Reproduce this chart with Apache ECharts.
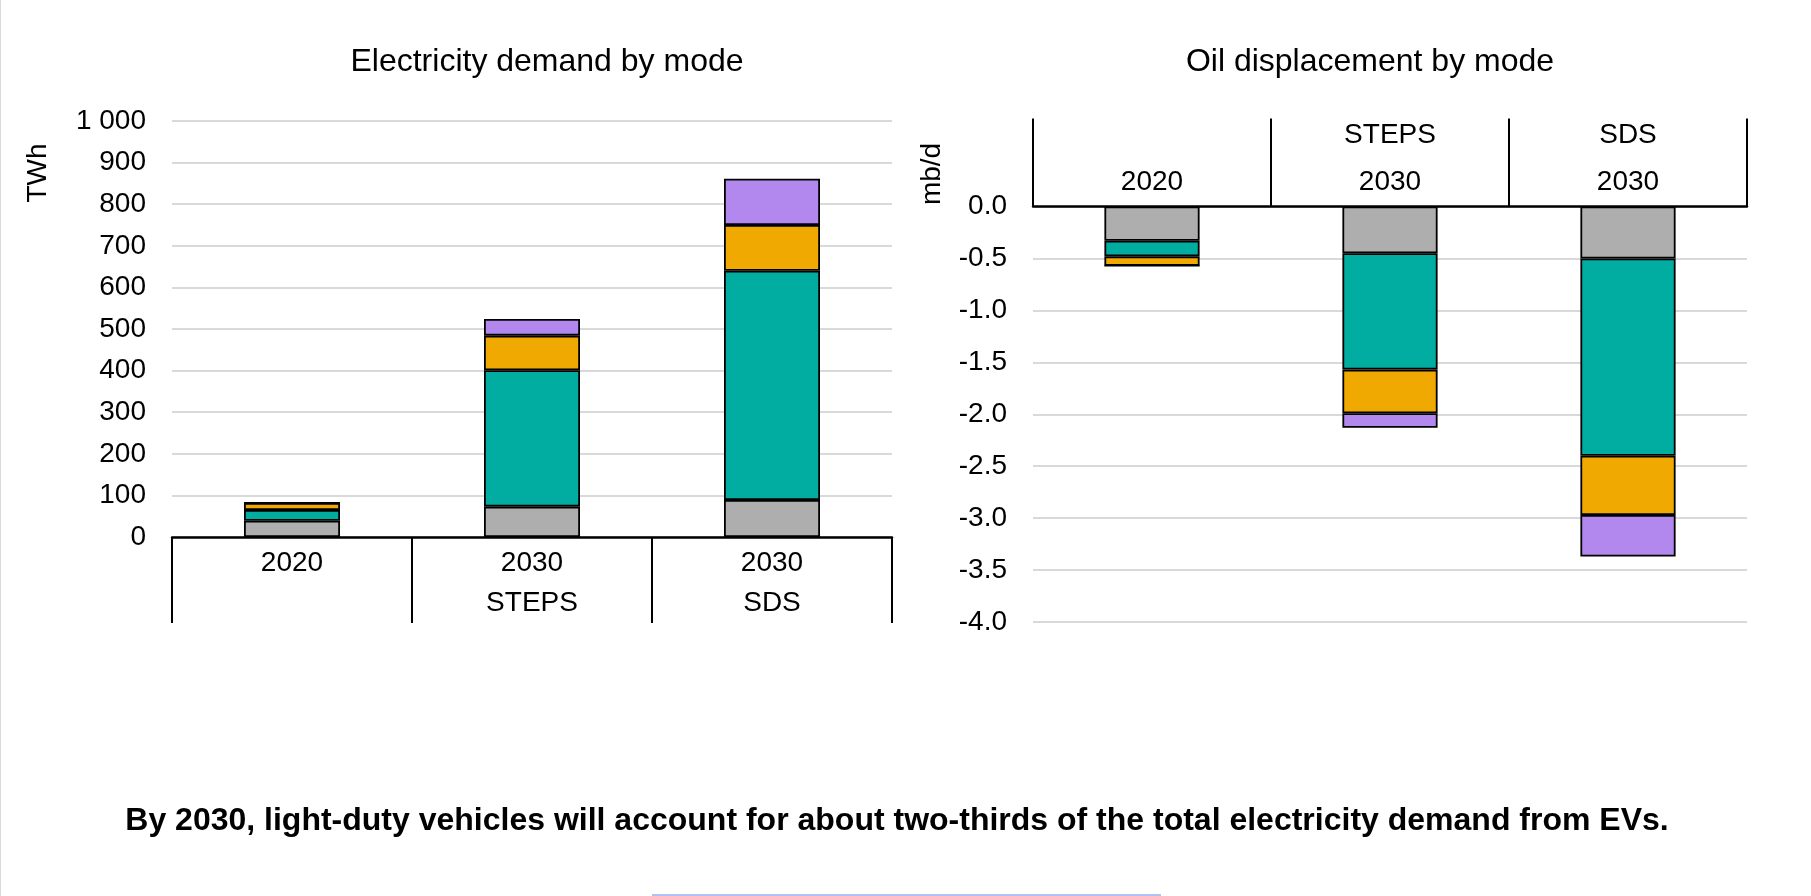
<!DOCTYPE html>
<html>
<head>
<meta charset="utf-8">
<title>Electricity demand and oil displacement by mode</title>
<script src="https://cdn.jsdelivr.net/npm/echarts@6/dist/echarts.min.js"></script>
<style>
  html, body { margin: 0; padding: 0; background: #ffffff; }
  #chart { width: 1811px; height: 896px; }
</style>
</head>
<body>
<div id="chart"></div>
<script>
// Categories for the two panels (multi-level labels, one line per level)
const elecCategories = ['2020', '2030\nSTEPS', '2030\nSDS'];
const oilCategories = ['2020', 'STEPS\n2030', 'SDS\n2030'];

// Transport modes, stacked in this order
const modeNames = ['Two/three-wheelers', 'Light-duty vehicles', 'Buses', 'Trucks'];

// Electricity demand by mode (TWh)
const elecTwoThree = [39, 73, 89];
const elecLDV = [26, 328, 551];
const elecBuses = [17, 83, 110];
const elecTrucks = [0, 40, 111];

// Oil displacement by mode (mb/d)
const oilTwoThree = [-0.33, -0.45, -0.50];
const oilLDV = [-0.15, -1.12, -1.90];
const oilBuses = [-0.09, -0.42, -0.57];
const oilTrucks = [0, -0.14, -0.40];

// Tick settings
const elecTicks = { min: 0, max: 1000, interval: 100 };
const oilTicks = { min: -4, max: 0, interval: 0.5 };

// Texts
const elecTitle = 'Electricity demand by mode';
const oilTitle = 'Oil displacement by mode';
const elecUnit = 'TWh';
const oilUnit = 'mb/d';
const caption = 'By 2030, light-duty vehicles will account for about two-thirds of the total electricity demand from EVs.';

const modeColors = ['#aeaeae', '#00ada0', '#f0a900', '#b288ee'];
const FONT = 'Liberation Sans, Arial, Helvetica, sans-serif';

const elecData = [elecTwoThree, elecLDV, elecBuses, elecTrucks];
const oilData = [oilTwoThree, oilLDV, oilBuses, oilTrucks];

const chart = echarts.init(document.getElementById('chart'), null, { renderer: 'canvas' });

function barSeries(data, i, axisIndex, stack) {
  return {
    name: modeNames[i],
    type: 'bar',
    xAxisIndex: axisIndex,
    yAxisIndex: axisIndex,
    stack: stack,
    barWidth: '40%',
    data: data,
    itemStyle: { color: modeColors[i], borderColor: '#000000', borderWidth: 1.8 },
    emphasis: { disabled: true }
  };
}

const series = [];
elecData.forEach((d, i) => series.push(barSeries(d, i, 0, 'elec')));
oilData.forEach((d, i) => series.push(barSeries(d, i, 1, 'oil')));

const splitLine = { show: true, lineStyle: { color: '#d9d9d9', width: 2 } };
const tickLabel = { color: '#000000', fontSize: 28, fontFamily: FONT };

const option = {
  animation: false,
  backgroundColor: '#ffffff',
  grid: [
    { left: 172, top: 121, width: 720, height: 416 },
    { left: 1033, top: 206.5, width: 714, height: 415.5 }
  ],
  xAxis: [
    {
      gridIndex: 0,
      type: 'category',
      position: 'bottom',
      data: elecCategories,
      axisLine: { show: true, lineStyle: { color: '#000000', width: 2.5 } },
      axisTick: { show: true, alignWithLabel: false, interval: 0, length: 86, lineStyle: { color: '#000000', width: 2 } },
      axisLabel: Object.assign({ interval: 0, margin: 6, lineHeight: 40 }, tickLabel),
      splitLine: { show: false }
    },
    {
      gridIndex: 1,
      type: 'category',
      position: 'top',
      data: oilCategories,
      axisLine: { show: true, onZero: false, lineStyle: { color: '#000000', width: 2.5 } },
      axisTick: { show: true, alignWithLabel: false, interval: 0, length: 88, lineStyle: { color: '#000000', width: 2 } },
      axisLabel: Object.assign({ interval: 0, margin: 1, lineHeight: 47 }, tickLabel),
      splitLine: { show: false }
    }
  ],
  yAxis: [
    {
      gridIndex: 0,
      type: 'value',
      min: elecTicks.min,
      max: elecTicks.max,
      interval: elecTicks.interval,
      axisLine: { show: false },
      axisTick: { show: false },
      splitLine: splitLine,
      axisLabel: Object.assign({
        margin: 26,
        formatter: v => String(v).replace(/\B(?=(\d{3})+(?!\d))/g, ' ')
      }, tickLabel)
    },
    {
      gridIndex: 1,
      type: 'value',
      min: oilTicks.min,
      max: oilTicks.max,
      interval: oilTicks.interval,
      axisLine: { show: false },
      axisTick: { show: false },
      splitLine: splitLine,
      axisLabel: Object.assign({
        margin: 26,
        formatter: v => (Math.abs(v) < 1e-9 ? 0 : v).toFixed(1)
      }, tickLabel)
    }
  ],
  series: series,
  graphic: [
    {
      type: 'text', x: 547, y: 62, silent: true,
      style: { text: elecTitle, font: '32px ' + FONT, fill: '#000000', textAlign: 'center', textVerticalAlign: 'middle' }
    },
    {
      type: 'text', x: 1370, y: 62, silent: true,
      style: { text: oilTitle, font: '32px ' + FONT, fill: '#000000', textAlign: 'center', textVerticalAlign: 'middle' }
    },
    {
      type: 'text', x: 38, y: 173, rotation: Math.PI / 2, silent: true,
      style: { text: elecUnit, font: '28px ' + FONT, fill: '#000000', textAlign: 'center', textVerticalAlign: 'middle' }
    },
    {
      type: 'text', x: 932, y: 174, rotation: Math.PI / 2, silent: true,
      style: { text: oilUnit, font: '28px ' + FONT, fill: '#000000', textAlign: 'center', textVerticalAlign: 'middle' }
    },
    {
      type: 'text', x: 897, y: 821, silent: true,
      style: { text: caption, font: 'bold 32px ' + FONT, fill: '#000000', textAlign: 'center', textVerticalAlign: 'middle' }
    },
    {
      type: 'line', silent: true,
      shape: { x1: 0.5, y1: 0, x2: 0.5, y2: 896 },
      style: { stroke: '#d9d9d9', lineWidth: 1 }
    },
    {
      type: 'line', silent: true,
      shape: { x1: 652, y1: 895, x2: 1161, y2: 895 },
      style: { stroke: '#b4c0ef', lineWidth: 2 }
    }
  ]
};

chart.setOption(option);
</script>
</body>
</html>
